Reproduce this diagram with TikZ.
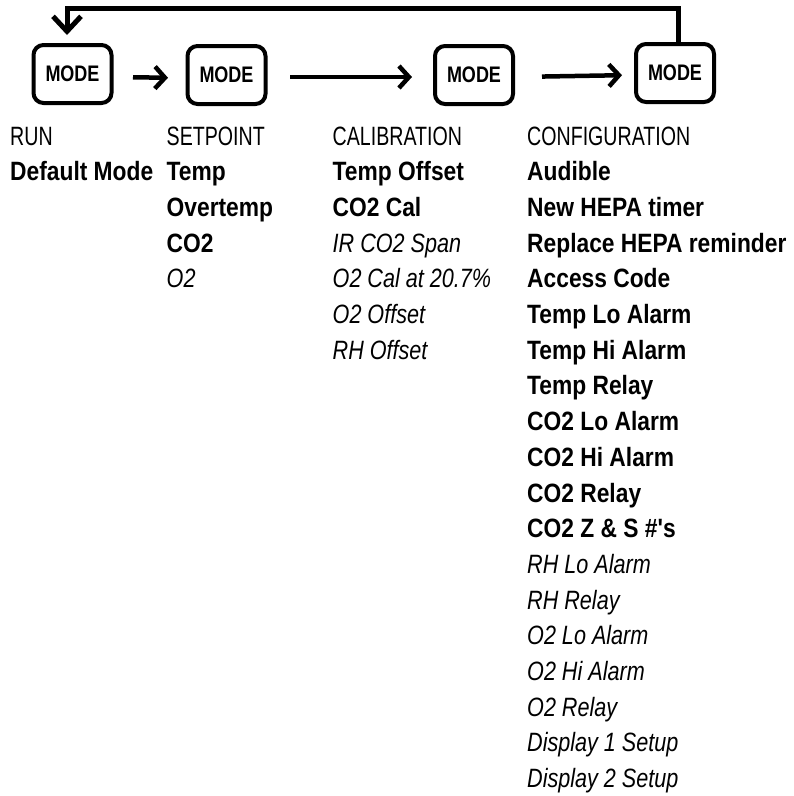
\documentclass[tikz,border=0pt]{standalone}
\usepackage{fontspec}
\usetikzlibrary{arrows.meta}
\newfontfamily\hdfont[FakeStretch=0.74]{Liberation Sans}
\newfontfamily\bdfont[FakeStretch=0.86]{Liberation Sans}
\newfontfamily\itfont[FakeStretch=0.815]{Liberation Sans}
\newfontfamily\modefont[FakeStretch=0.8]{Liberation Sans}
\tikzset{
  modebtn/.style={draw, line width=4pt, rounded corners=10pt, minimum width=78pt,
    minimum height=58pt, inner sep=0pt, font=\modefont\bfseries\fontsize{22.5}{22.5}\selectfont},
  hd/.style={anchor=base west, inner sep=0pt, font=\hdfont\fontsize{26.5}{27}\selectfont},
  bd/.style={anchor=base west, inner sep=0pt, font=\bdfont\bfseries\fontsize{26.5}{27}\selectfont},
  itm/.style={anchor=base west, inner sep=0pt, font=\itfont\itshape\fontsize{26.5}{27}\selectfont},
  flow/.style={line width=4.5pt, -{Straight Barb[length=10pt,width=22pt]}},
  back/.style={line width=5pt, -{Straight Barb[length=15pt,width=28pt]}},
}
\begin{document}
\begin{tikzpicture}[x=1pt,y=-1pt]
\useasboundingbox[fill=white] (0,0) rectangle (794,796);
% buttons
\node[modebtn] (m1) at (72.5,74) {MODE};
\node[modebtn] (m2) at (226.5,75) {MODE};
\node[modebtn] (m3) at (474,75) {MODE};
\node[modebtn] (m4) at (675,73) {MODE};
% forward arrows
\draw[flow, shorten <=19.5pt, shorten >=17.5pt] ([yshift=-3pt]m1.east) -- ([yshift=-3pt]m2.west);
\draw[flow, shorten <=22.5pt, shorten >=21pt] ([yshift=-2pt]m2.east) -- ([yshift=-2pt]m3.west);
\draw[flow, shorten <=27pt, shorten >=12pt] ([yshift=-2pt]m3.east) -- ([yshift=-2pt]m4.west);
% feedback
\coordinate (topR) at (678,8);
\coordinate (topL) at (67,8);
\draw[back, shorten >=8pt] (topR |- m4.north) -- (topR) -- (topL) -- (topL |- m1.north);
% RUN
\node[hd] (run0) at (10,145) {RUN};
\node[bd] (run1) at (10,180.7) {Default Mode};
% SETPOINT
\foreach \t/\s [count=\i from 0] in {SETPOINT/hd, Temp/bd, Overtemp/bd, CO2/bd, O2/itm}
  \node[\s] (sp\i) at (166.5,145+35.7*\i) {\t};
% CALIBRATION
\foreach \t/\s [count=\i from 0] in {CALIBRATION/hd, Temp Offset/bd, CO2 Cal/bd, IR CO2 Span/itm,
  O2 Cal at 20.7\%/itm, O2 Offset/itm, RH Offset/itm}
  \node[\s] (cal\i) at (332.5,145+35.7*\i) {\t};
% CONFIGURATION
\foreach \t/\s [count=\i from 0] in {CONFIGURATION/hd, Audible/bd, New HEPA timer/bd,
  Replace HEPA reminder/bd, Access Code/bd, Temp Lo Alarm/bd, Temp Hi Alarm/bd, Temp Relay/bd,
  CO2 Lo Alarm/bd, CO2 Hi Alarm/bd, CO2 Relay/bd, CO2 Z \& S \#'s/bd, RH Lo Alarm/itm,
  RH Relay/itm, O2 Lo Alarm/itm, O2 Hi Alarm/itm, O2 Relay/itm, Display 1 Setup/itm,
  Display 2 Setup/itm}
  \node[\s] (cfg\i) at (527,145+35.7*\i) {\t};
\end{tikzpicture}
\end{document}
